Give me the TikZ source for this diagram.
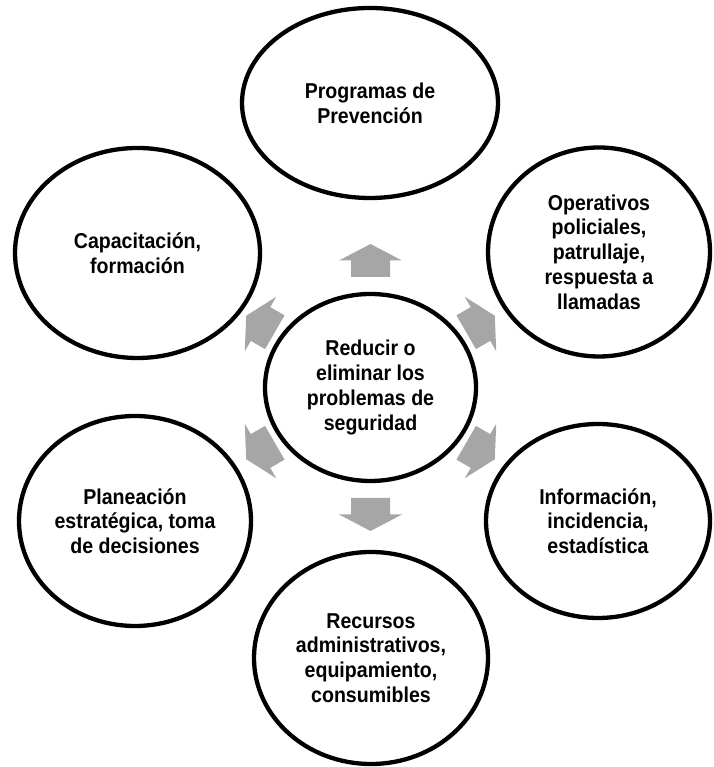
\documentclass[tikz,border=0pt]{standalone}
\usepackage{fontspec}
\setmainfont{Liberation Sans}[FakeStretch=0.91]
\usetikzlibrary{shapes.geometric}
\definecolor{flechagris}{HTML}{A6A6A6}
\begin{document}
\begin{tikzpicture}[x=1pt,y=1pt,
	ovalo/.style={draw=black,line width=4.3pt,ellipse,inner sep=0pt,align=center,
		font=\fontsize{21.5}{24.7}\selectfont\bfseries},
	flecha/.style={fill=flechagris}]
	\useasboundingbox (0,0) rectangle (713,767);
	%centre
	\node[ovalo,minimum width=211,minimum height=187] (centro) at (370.5,379.5) {Reducir o\\eliminar los\\problemas de\\seguridad};
	
	%outer ring
	\node[ovalo,minimum width=256,minimum height=190] (prev) at (370,664) {Programas de\\Prevención}; %top
	\node[ovalo,minimum width=222,minimum height=209] (oper) at (599,515) {Operativos\\policiales,\\patrullaje,\\respuesta a\\llamadas}; %upper right
	\node[ovalo,minimum width=224,minimum height=194] (info) at (598,246) {Información,\\incidencia,\\estadística}; %lower right
	\node[ovalo,minimum width=234,minimum height=212] (recu) at (371,109) {Recursos\\administrativos,\\equipamiento,\\consumibles}; %bottom
	\node[ovalo,minimum width=232,minimum height=210] (plan) at (135,246) {Planeación\\estratégica, toma\\de decisiones}; %lower left
	\node[ovalo,minimum width=245,minimum height=210] (capa) at (137.5,514) {Capacitación,\\formación}; %upper left
	
	%block arrows
	\foreach \a in {90,30,-30,-90,-150,150}{
		\begin{scope}[shift={(centro)},rotate=\a]
			\fill[flecha] (110.5,-19.5) -- (127,-19.5) -- (127,-31.5) -- (143.5,0)
				-- (127,31.5) -- (127,19.5) -- (110.5,19.5) -- cycle;
		\end{scope}
	}
\end{tikzpicture}
\end{document}
